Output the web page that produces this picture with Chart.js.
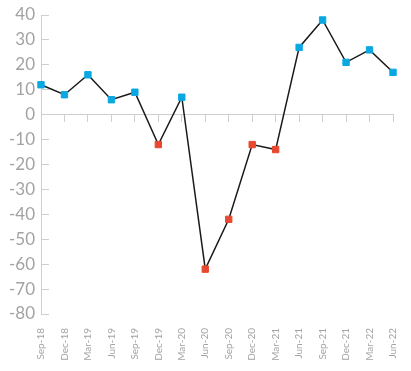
<!DOCTYPE html>
<html>
<head>
<meta charset="utf-8">
<script src="https://cdn.jsdelivr.net/npm/chart.js@4"></script>
<style>
  html, body { margin: 0; padding: 0; background: #fff; }
  #wrap { width: 411px; height: 371px; position: relative; }
</style>
</head>
<body>
<div id="wrap"><canvas id="canvasID"></canvas></div>
<script>
// quarters
const quarters = ['Sep-18', 'Dec-18', 'Mar-19', 'Jun-19', 'Sep-19', 'Dec-19', 'Mar-20', 'Jun-20',
  'Sep-20', 'Dec-20', 'Mar-21', 'Jun-21', 'Sep-21', 'Dec-21', 'Mar-22', 'Jun-22']
// net balance values
const balance = [12, 8, 16, 6, 9, -12, 7, -62, -42, -12, -14, 27, 38, 21, 26, 17]
const yTicks = { min: -80, max: 40, step: 10 }

const BLUE = '#0aa8e2'
const RED = '#e8482f'
const AXIS = '#cfcfcf'
const LABEL = '#a3a3a3'

const pointColor = (ctx) => (ctx.raw < 0 ? RED : BLUE)

new Chart(document.getElementById('canvasID'), {
  type: 'line',
  data: {
    labels: quarters,
    datasets: [
      {
        data: balance,
        borderColor: '#1a1a1a',
        borderWidth: 1.5,
        tension: 0,
        pointStyle: 'rect',
        pointRadius: 4.5,
        pointBorderWidth: 1,
        pointBackgroundColor: pointColor,
        pointBorderColor: pointColor,
        xAxisID: 'x',
      },
    ],
  },
  options: {
    responsive: true,
    maintainAspectRatio: false,
    animation: false,
    layout: { padding: { top: 15, right: 18, bottom: 0, left: 0 } },
    plugins: {
      legend: { display: false },
      tooltip: { enabled: false },
    },
    scales: {
      x: {
        type: 'category',
        position: 'bottom',
        grid: { display: false, drawTicks: false },
        border: { display: false },
        ticks: {
          autoSkip: false,
          minRotation: 90,
          maxRotation: 90,
          padding: 14,
          color: LABEL,
          font: { family: 'Lato', size: 10 },
        },
        afterFit: (scale) => {
          scale.height = 57
          scale.paddingLeft = 0
          scale.paddingRight = 0
        },
      },
      // zero line with downward tick marks
      x0: {
        type: 'category',
        labels: quarters,
        position: { y: 0 },
        grid: { drawOnChartArea: false, drawTicks: true, tickLength: 7, color: AXIS },
        border: { display: true, color: AXIS, width: 1 },
        ticks: { display: false },
        afterFit: (scale) => {
          scale.paddingLeft = 0
          scale.paddingRight = 0
        },
      },
      y: {
        min: yTicks.min,
        max: yTicks.max,
        position: 'left',
        grid: { drawOnChartArea: false, drawTicks: true, tickLength: -8, color: AXIS },
        border: { display: true, color: AXIS, width: 1 },
        ticks: {
          stepSize: yTicks.step,
          padding: 14,
          color: LABEL,
          font: { family: 'Lato', size: 17 },
        },
        afterFit: (scale) => {
          scale.width = 41
          scale.paddingTop = 0
          scale.paddingBottom = 0
        },
      },
    },
  },
})
</script>
</body>
</html>
